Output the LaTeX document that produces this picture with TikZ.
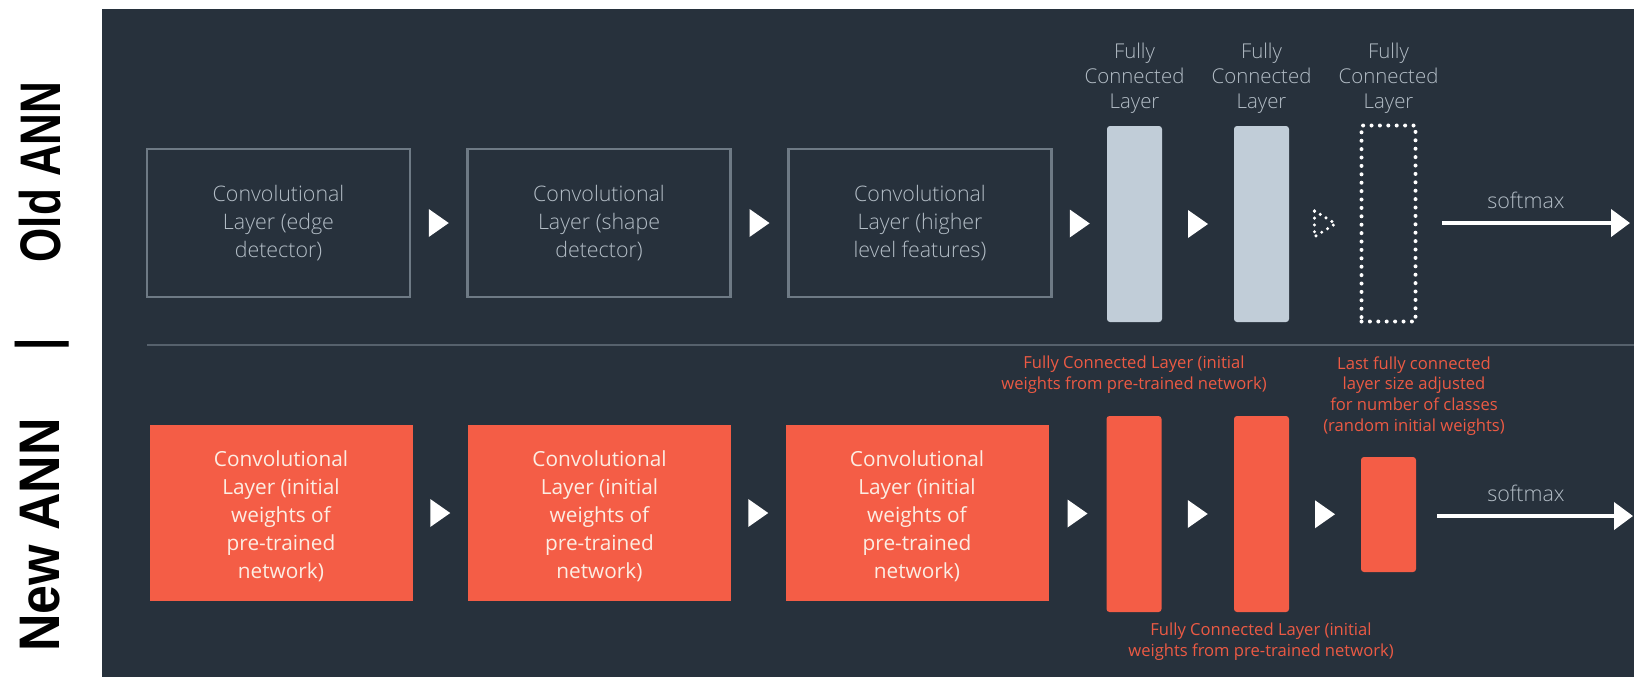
\documentclass[tikz,border=0pt]{standalone}
\usepackage{fontspec}
\usepackage{graphicx}
\setmainfont{Open Sans Light}
\newfontfamily\regfont{Open Sans}
\newfontfamily\annfont{Liberation Sans}
\usetikzlibrary{arrows.meta,calc}

\definecolor{panel}{HTML}{27313C}
\definecolor{outline}{HTML}{6E7A85}
\definecolor{greytext}{HTML}{B3BDC6}
\definecolor{barfill}{HTML}{C1CDD8}
\definecolor{orangefill}{HTML}{F45D46}
\definecolor{orangetext}{HTML}{EC5A44}
\definecolor{creamtext}{HTML}{FCEDE3}
\definecolor{rulecol}{HTML}{56616C}

\tikzset{
  oldconv/.style={draw=outline, line width=1.4pt, minimum width=131.5pt,
    minimum height=74pt, inner sep=0pt, align=center, text=greytext,
    font=\fontsize{10.7}{14}\selectfont},
  newconv/.style={fill=orangefill, minimum width=131.5pt, minimum height=88pt,
    inner sep=0pt},
  newtext/.style={align=center, text=creamtext, inner sep=0pt,
    font=\regfont\fontsize{10.4}{14}\selectfont},
  fcbar/.style={fill=barfill, rounded corners=1.5pt, minimum width=27.5pt,
    minimum height=98pt, inner sep=0pt},
  fcnew/.style={fill=orangefill, rounded corners=1.5pt, minimum width=27.5pt,
    minimum height=98pt, inner sep=0pt},
  fcdots/.style={draw=white, line width=2pt, line cap=round,
    dash pattern=on 0pt off 4.2pt, minimum width=27pt, minimum height=98pt,
    inner sep=0pt},
  fclabel/.style={align=center, text=greytext, inner sep=0pt,
    font=\fontsize{10.2}{12.5}\selectfont},
  orangelbl/.style={align=center, text=orangetext, inner sep=0pt,
    font=\regfont\fontsize{8.3}{10.4}\selectfont},
  smlabel/.style={text=greytext, inner sep=0pt, font=\fontsize{10.75}{12}\selectfont},
  annlabel/.style={rotate=90, inner sep=0pt,
    font=\annfont\bfseries\fontsize{22}{22}\selectfont},
  softarrow/.style={draw=white, line width=2pt,
    -{Triangle[length=9.5pt,width=13.5pt]}},
  play/.pic={\fill[white] (-10,-14) -- (10,0) -- (-10,14) -- cycle;},
  playdots/.pic={\draw[white, line width=1.7pt, line cap=round,
    dash pattern=on 0pt off 3.4pt] (-10,-13) -- (11,0) -- (-10,13) -- cycle;},
}

\begin{document}
\begin{tikzpicture}[x=0.5pt,y=-0.5pt]
  % canvas and dark panel
  \fill[white] (0,0) rectangle (1634,677);
  \useasboundingbox (0,0) rectangle (1634,677);
  \fill[panel] (102,9) rectangle (1634,677);

  % side captions
  \node[annlabel] (oldcap) at (40,172) {\scalebox{1}[1.3]{Old ANN}};
  \node[annlabel] (barcap) at (42,344) {\scalebox{1}[1.3]{|}};
  \node[annlabel] (newcap) at (40,535) {\scalebox{1.18}[1.3]{New ANN}};

  % divider between the two networks
  \draw[rulecol, line width=0.75pt] (147,345) -- (1634,345);

  % ---- original network ----
  \node[oldconv] (oc1) at (278.5,223) {Convolutional\\Layer (edge\\detector)};
  \node[oldconv] (oc2) at (599,223) {Convolutional\\Layer (shape\\detector)};
  \node[oldconv] (oc3) at (920,223) {Convolutional\\Layer (higher\\level features)};
  \node[fcbar] (of1) at (1134.5,224) {};
  \node[fcbar] (of2) at (1261.5,224) {};
  \node[fcdots] (of3) at (1388.5,223.5) {};

  \node[fclabel] (ol1) at (1134.5,78) {Fully\\Connected\\Layer};
  \node[fclabel] (ol2) at (1261.5,78) {Fully\\Connected\\Layer};
  \node[fclabel] (ol3) at (1388.5,78) {Fully\\Connected\\Layer};

  \pic at ($(oc1.east)!0.5!(oc2.west)$) {play};
  \pic at ($(oc2.east)!0.5!(oc3.west)$) {play};
  \pic at ($(oc3.east)!0.5!(of1.west)$) {play};
  \pic at ($(of1.east)!0.5!(of2.west)$) {play};
  \pic at ($(of2.east)!0.5!(of3.west)$) {playdots};

  \coordinate (os) at (1442,223);
  \coordinate (oe) at (1630,223);
  \draw[softarrow] (os) -- (oe);
  \node[smlabel] (osm) at (1526,200) {softmax};

  % ---- transferred network ----
  \node[newconv] (nc1) at (281,513) {};
  \node[newconv] (nc2) at (599.5,513) {};
  \node[newconv] (nc3) at (917,513) {};
  \foreach \b in {nc1,nc2,nc3}
    \node[newtext] at ([yshift=-1.5pt]\b.center)
      {Convolutional\\Layer (initial\\weights of\\pre-trained\\network)};
  \node[fcnew] (nf1) at (1134,514) {};
  \node[fcnew] (nf2) at (1261.5,514) {};
  \node[fcnew, minimum height=57.5pt] (nf3) at (1388.5,514.5) {};

  \pic at ($(nc1.east)!0.5!(nc2.west)$) {play};
  \pic at ($(nc2.east)!0.5!(nc3.west)$) {play};
  \pic at ($(nc3.east)!0.5!(nf1.west)$) {play};
  \pic at ($(nf1.east)!0.5!(nf2.west)$) {play};
  \pic at ($(nf2.east)!0.5!(nf3.west)$) {play};

  \node[orangelbl] (nlA) at (1134,375) {Fully Connected Layer (initial\\weights from pre-trained network)};
  \node[orangelbl] (nlB) at (1414,396) {Last fully connected\\layer size adjusted\\for number of classes\\(random initial weights)};
  \node[orangelbl] (nlC) at (1261,642) {Fully Connected Layer (initial\\weights from pre-trained network)};

  \coordinate (ns) at (1437,516);
  \coordinate (ne) at (1633,516);
  \draw[softarrow] (ns) -- (ne);
  \node[smlabel] (nsm) at (1526,493) {softmax};
\end{tikzpicture}
\end{document}
